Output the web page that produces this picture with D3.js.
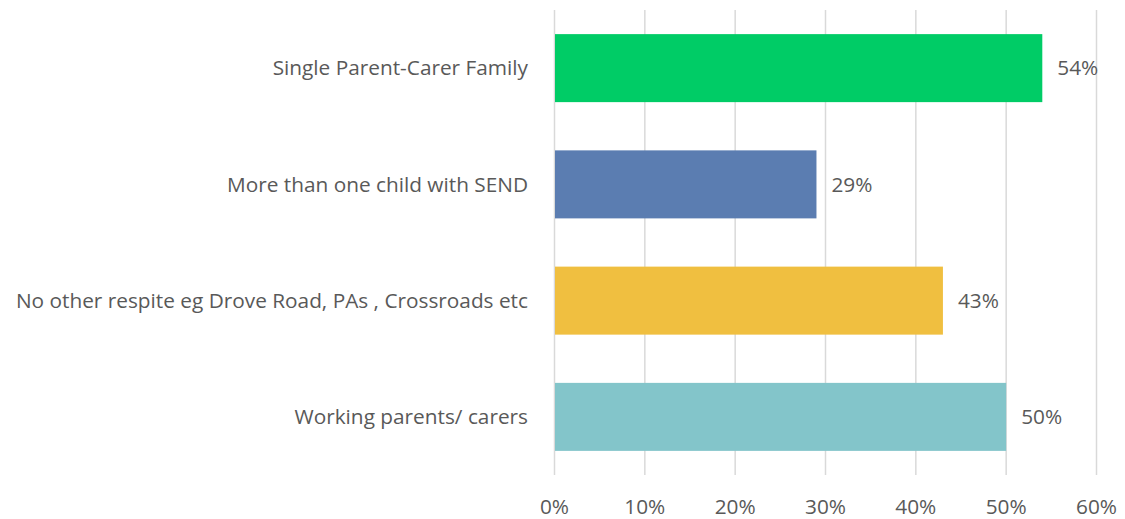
<!DOCTYPE html>
<html>
<head>
<meta charset="utf-8">
<script src="https://cdn.jsdelivr.net/npm/d3@7"></script>
<style>
  body { margin: 0; background: #fff; }
  text { font-family: "Open Sans", sans-serif; fill: #595959; }
</style>
</head>
<body>
<div id="chart"></div>
<script>
// Chart data
var categories = ["Single Parent-Carer Family", "More than one child with SEND",
    "No other respite eg Drove Road, PAs , Crossroads etc", "Working parents/ carers"];
var values = [0.54, 0.29, 0.43, 0.50];
var colors = ["#00cc66", "#5b7db1", "#f0bf40", "#83c5ca"];
var ticks = [0, 0.1, 0.2, 0.3, 0.4, 0.5, 0.6];

var width = 1125, height = 519;
var fontSize = '20.8px';

var svg = d3.select('#chart')
    .append('svg')
    .attr('width', width)
    .attr('height', height);

var x = d3.scaleLinear().domain([0, 0.6]).range([554.5, 1096.5]);
var y = d3.scaleBand().domain(categories).range([10, 475]).paddingInner(0.415).paddingOuter(0.2075);

// Gridlines
svg.selectAll('.grid')
    .data(ticks)
    .enter()
    .append('line')
    .attr('x1', d => x(d))
    .attr('x2', d => x(d))
    .attr('y1', 10)
    .attr('y2', 475)
    .attr('stroke', '#d9d9d9')
    .attr('stroke-width', 1.5);

// Bars
svg.selectAll('.bar')
    .data(categories)
    .enter()
    .append('rect')
    .attr('x', x(0) + 0.5)
    .attr('y', d => y(d))
    .attr('width', (d, i) => x(values[i]) - x(0) - 0.5)
    .attr('height', y.bandwidth())
    .attr('fill', (d, i) => colors[i]);

// Value labels
svg.selectAll('.val')
    .data(categories)
    .enter()
    .append('text')
    .attr('x', (d, i) => x(values[i]) + 15)
    .attr('y', d => y(d) + y.bandwidth() / 2)
    .attr('dy', '0.35em')
    .style('font-size', fontSize)
    .text((d, i) => Math.round(values[i] * 100) + '%');

// Category labels
svg.selectAll('.cat')
    .data(categories)
    .enter()
    .append('text')
    .attr('x', 528)
    .attr('y', d => y(d) + y.bandwidth() / 2)
    .attr('dy', '0.35em')
    .attr('text-anchor', 'end')
    .style('font-size', fontSize)
    .text(d => d);

// X tick labels
svg.selectAll('.tick')
    .data(ticks)
    .enter()
    .append('text')
    .attr('x', d => x(d))
    .attr('y', 507)
    .attr('dy', '0.35em')
    .attr('text-anchor', 'middle')
    .style('font-size', fontSize)
    .text(d => d3.format('.0%')(d));
</script>
</body>
</html>
